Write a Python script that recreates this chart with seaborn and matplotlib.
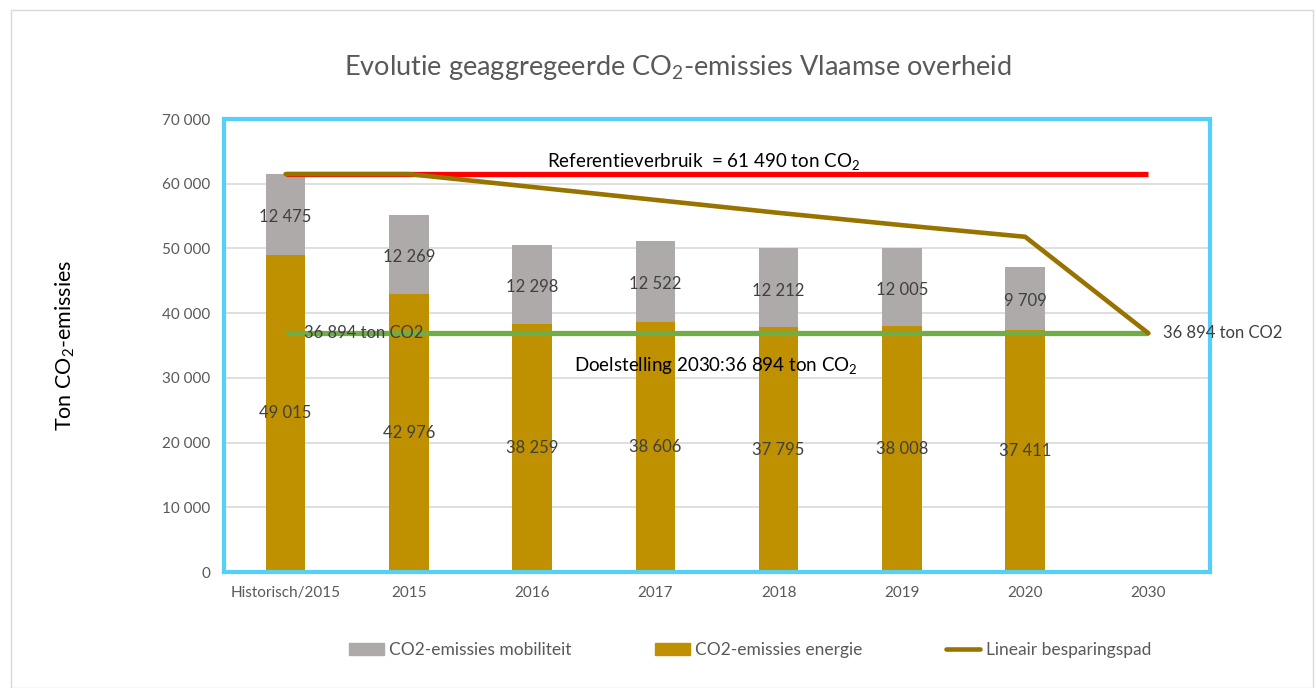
import numpy as np
import pandas as pd
import seaborn as sns
import matplotlib.pyplot as plt
from matplotlib.patches import Rectangle, Patch
from matplotlib.lines import Line2D

categories = ['Historisch/2015', '2015', '2016', '2017', '2018', '2019', '2020', '2030']
bar_years = ['Historisch/2015', '2015', '2016', '2017', '2018', '2019', '2020']
energie = [49015, 42976, 38259, 38606, 37795, 38008, 37411]
mobiliteit = [12475, 12269, 12298, 12522, 12212, 12005, 9709]
besparingspad = [61490, 61490, 59500, 57500, 55500, 53600, 51800, 36894]
referentie = 61490
doelstelling = 36894

sns.set_theme(style='white')
plt.rcParams['font.family'] = ['Lato', 'DejaVu Sans']
plt.rcParams['mathtext.fontset'] = 'custom'
plt.rcParams['mathtext.rm'] = 'Lato'
plt.rcParams['mathtext.it'] = 'Lato'

df = pd.DataFrame({'jaar': bar_years, 'energie': energie, 'mobiliteit': mobiliteit})
df['totaal'] = df['energie'] + df['mobiliteit']

def fmt(v):
    return f'{v:,}'.replace(',', ' ')

fig = plt.figure(figsize=(13.16, 6.88), dpi=100)
fig.patches.append(Rectangle((0.008, 0.0), 0.99, 0.985, transform=fig.transFigure,
                             fill=False, edgecolor='#D9D9D9', linewidth=1))
ax = fig.add_axes([0.1702, 0.1686, 0.7493, 0.6584])

gray = '#AEAAAA'
gold = '#BF9000'
sns.barplot(data=df, x='jaar', y='totaal', order=categories, color=gray,
            width=0.32, saturation=1, ax=ax, zorder=2, linewidth=0)
sns.barplot(data=df, x='jaar', y='energie', order=categories, color=gold,
            width=0.32, saturation=1, ax=ax, zorder=2, linewidth=0)

x = np.arange(len(categories))
ax.hlines(referentie, 0, len(categories) - 1, color='#FF0000', linewidth=3.8, zorder=3)
ax.hlines(doelstelling, 0, len(categories) - 1, color='#70AD47', linewidth=3.8, zorder=3)
sns.lineplot(x=x, y=besparingspad, color='#997300', linewidth=3.3, ax=ax, zorder=4,
             solid_capstyle='round')

for i in range(len(bar_years)):
    ax.text(i, energie[i] / 2, fmt(energie[i]), ha='center', va='center',
            fontsize=12, color='#404040', zorder=5)
    ax.text(i, energie[i] + mobiliteit[i] / 2 - 400, fmt(mobiliteit[i]), ha='center',
            va='center', fontsize=12, color='#404040', zorder=5)

ax.text(0.15, doelstelling, fmt(doelstelling) + ' ton CO2', ha='left', va='center',
        fontsize=12, color='#404040', zorder=5)
ax.text(7.12, doelstelling, fmt(doelstelling) + ' ton CO2', ha='left', va='center',
        fontsize=12, color='#404040', zorder=5, clip_on=False)
ax.text(3.39, referentie + 2000, 'Referentieverbruik  = 61 490 ton CO$_2$', ha='center',
        va='center', fontsize=13.5, color='black', zorder=5)
ax.text(3.49, doelstelling - 5000, 'Doelstelling 2030:36 894 ton CO$_2$', ha='center',
        va='center', fontsize=13.5, color='black', zorder=5)

ax.set_xlim(-0.5, len(categories) - 0.5)
ax.set_ylim(0, 70000)
ax.set_yticks(np.arange(0, 70001, 10000))
ax.set_yticklabels([fmt(v) for v in range(0, 70001, 10000)])
ax.yaxis.grid(True, color='#D9D9D9', linewidth=1.2, zorder=0)
ax.set_axisbelow(True)
ax.tick_params(axis='both', labelsize=11, labelcolor='#595959', length=0, pad=10)
ax.set_xlabel('')
ax.set_ylabel('Ton CO$_2$-emissies', fontsize=15.5, color='black')
ax.yaxis.set_label_coords(-0.149, 0.5)
for s in ax.spines.values():
    s.set_color('#55D0F8')
    s.set_linewidth(3)
    s.set_visible(True)

fig.text(0.515, 0.902, 'Evolutie geaggregeerde CO$_2$-emissies Vlaamse overheid',
         ha='center', va='center', fontsize=19.5, color='#595959')

handles = [Patch(color=gray, label='CO2-emissies mobiliteit'),
           Patch(color=gold, label='CO2-emissies energie'),
           Line2D([], [], color='#997300', linewidth=3.3, label='Lineair besparingspad')]
leg = fig.legend(handles=handles, loc='center', bbox_to_anchor=(0.57, 0.055), ncol=3,
                 frameon=False, fontsize=12.5, columnspacing=4.8, handlelength=2.0,
                 handletextpad=0.3)
for t in leg.get_texts():
    t.set_color('#595959')

fig.savefig('out.png', dpi=100)
